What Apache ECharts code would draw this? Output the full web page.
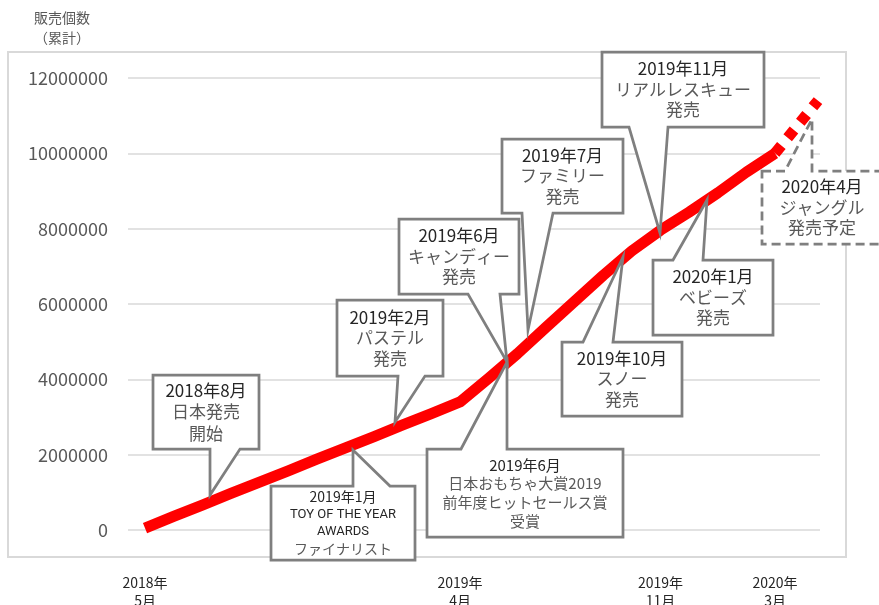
<!DOCTYPE html>
<html>
<head>
<meta charset="utf-8">
<title>販売個数（累計）</title>
<script src="https://cdn.jsdelivr.net/npm/echarts@6.0.0/dist/echarts.min.js"></script>
<style>
  html, body { margin: 0; padding: 0; background: #fff; }
  #main { width: 879px; height: 605px; }
</style>
</head>
<body>
<div id="main"></div>
<script>
// 月（横軸のカテゴリ）
const months = [
  "2018年5月", "2018年6月", "2018年7月", "2018年8月", "2018年9月", "2018年10月",
  "2018年11月", "2018年12月", "2019年1月", "2019年2月", "2019年3月", "2019年4月",
  "2019年5月", "2019年6月", "2019年7月", "2019年8月", "2019年9月", "2019年10月",
  "2019年11月", "2019年12月", "2020年1月", "2020年2月", "2020年3月", "2020年4月",
  "2020年5月"
];
// 販売個数（累計）実績 2018年5月〜2020年3月
const salesActual = [
  50000, 360000, 660000, 970000, 1270000, 1570000, 1880000, 2180000, 2480000,
  2790000, 3090000, 3400000, 4030000, 4680000, 5380000, 6070000, 6760000,
  7410000, 7960000, 8440000, 8950000, 9500000, 10000000
];
// 予定（点線）: 横位置は月の番号（2020年3月 = 22、4月中旬 ≒ 23.5）
const planX = [22, 23.5];
const planValues = [10000000, 11400000];
// 横軸に表示する月
const tickMonths = ["2018年5月", "2019年4月", "2019年11月", "2020年3月"];
const yTicks = [0, 2000000, 4000000, 6000000, 8000000, 10000000, 12000000];

const FONT = "Noto Sans CJK JP";
const BORDER = "#7f7f7f";

// 吹き出し（注記）: box = [x, y, w, h], ptr = [辺, 根元x1, 根元x2, 先端x, 先端y]
const callouts = [
  { lines: ["2018年8月", "日本発売", "開始"], box: [153, 375, 106, 74], ptr: ["bottom", 210, 240, 210, 495], size: 17, lh: 21.5 },
  { lines: ["2019年1月", "TOY OF THE YEAR", "AWARDS", "ファイナリスト"], box: [271, 486, 144, 74], ptr: ["top", 353, 390, 353, 450], size: 14, lh: 17.3, narrow: true },
  { lines: ["2019年2月", "パステル", "発売"], box: [337, 300, 106, 76], ptr: ["bottom", 398, 425, 395, 422], size: 17, lh: 20.5 },
  { lines: ["2019年6月", "キャンディー", "発売"], box: [399, 219, 120, 75], ptr: ["bottom", 468, 500, 507, 362], size: 17, lh: 20.5 },
  { lines: ["2019年7月", "ファミリー", "発売"], box: [502, 139, 121, 74], ptr: ["bottom", 522, 553, 528, 330], size: 17, lh: 20.5 },
  { lines: ["2019年6月", "日本おもちゃ大賞2019", "前年度ヒットセールス賞", "受賞"], box: [427, 449, 196, 88], ptr: ["top", 461, 507, 507, 362], size: 15, lh: 18.7 },
  { lines: ["2019年10月", "スノー", "発売"], box: [562, 342, 120, 74], ptr: ["top", 583, 613, 623, 257], size: 17, lh: 20.5 },
  { lines: ["2019年11月", "リアルレスキュー", "発売"], box: [602, 52, 162, 75], ptr: ["bottom", 629, 668, 660, 233], size: 17, lh: 20.5 },
  { lines: ["2020年1月", "ベビーズ", "発売"], box: [653, 260, 120, 75], ptr: ["top", 673, 703, 707, 200], size: 17, lh: 20.5 },
  { lines: ["2020年4月", "ジャングル", "発売予定"], box: [762, 171, 120, 73], ptr: ["top", 785, 812, 812, 119], size: 17, lh: 20.5, dashed: true }
];

function calloutPoints(c) {
  const [x, y, w, h] = c.box;
  const [side, x1, x2, tx, ty] = c.ptr;
  if (side === "bottom") {
    return [[x, y], [x + w, y], [x + w, y + h], [x2, y + h], [tx, ty], [x1, y + h], [x, y + h]];
  }
  return [[x, y], [x1, y], [tx, ty], [x2, y], [x + w, y], [x + w, y + h], [x, y + h]];
}

function buildGraphics() {
  const els = [];
  // 外枠
  els.push({
    type: "rect", z: 1, silent: true,
    shape: { x: 8, y: 52, width: 838, height: 505 },
    style: { fill: "none", stroke: "#d9d9d9", lineWidth: 2 }
  });
  // 縦軸タイトル
  ["販売個数", "（累計）"].forEach((t, i) => {
    els.push({
      type: "text", z: 100,
      style: { text: t, x: 62, y: 18 + i * 20, fill: "#595959", fontSize: 14, fontFamily: FONT,
        align: "center", verticalAlign: "middle", textAlign: "center", textVerticalAlign: "middle" }
    });
  });
  callouts.forEach((c) => {
    els.push({
      type: "polygon", z: 100,
      shape: { points: calloutPoints(c) },
      style: { fill: "#fff", stroke: BORDER, lineWidth: 2.75, lineJoin: "miter",
        lineDash: c.dashed ? [9, 5] : null }
    });
    const [x, y, w, h] = c.box;
    const cx = x + w / 2, cy = y + h / 2;
    const n = c.lines.length;
    c.lines.forEach((t, k) => {
      const isDate = k === 0;
      const isLatin = c.narrow && (k === 1 || k === 2);
      els.push({
        type: "text", z: 101,
        style: {
          text: t, x: cx, y: cy + (k - (n - 1) / 2) * c.lh,
          fill: isDate || isLatin ? "#262626" : "#595959",
          fontSize: isLatin ? 13 : c.size,
          fontFamily: isLatin ? "Liberation Sans Narrow, Roboto, sans-serif" : FONT,
          align: "center", verticalAlign: "middle", textAlign: "center", textVerticalAlign: "middle"
        }
      });
    });
  });
  return els;
}

const chart = echarts.init(document.getElementById("main"));

const option = {
  animation: false,
  grid: { left: 128, right: 59, top: 78, bottom: 75, containLabel: false, outerBoundsMode: "none" },
  xAxis: {
    type: "value",
    min: -0.594,
    max: 23.57,
    axisLine: { show: false },
    axisTick: { show: false },
    splitLine: { show: false },
    axisLabel: {
      customValues: tickMonths.map((m) => months.indexOf(m)),
      margin: 44,
      fontFamily: FONT,
      fontSize: 14,
      lineHeight: 18,
      color: "#262626",
      formatter: (v) => months[Math.round(v)].replace("年", "年\n")
    }
  },
  yAxis: {
    type: "value",
    min: yTicks[0],
    max: yTicks[yTicks.length - 1],
    interval: yTicks[1] - yTicks[0],
    axisLine: { show: false },
    axisTick: { show: false },
    splitLine: { lineStyle: { color: "#d9d9d9", width: 1.5 } },
    axisLabel: {
      margin: 20,
      fontFamily: FONT,
      fontSize: 18,
      color: "#595959",
      formatter: (v) => String(v)
    }
  },
  series: [
    {
      name: "実績",
      type: "line",
      symbol: "none",
      data: salesActual.map((v, i) => [i, v]),
      lineStyle: { color: "#ff0000", width: 11, join: "round" },
      z: 3
    },
    {
      name: "予定",
      type: "line",
      symbol: "none",
      data: planValues.map((v, i) => [planX[i], v]),
      lineStyle: { color: "#ff0000", width: 11, type: [10, 10], dashOffset: 0 },
      z: 3
    }
  ],
  graphic: buildGraphics()
};

chart.setOption(option);
</script>
</body>
</html>
